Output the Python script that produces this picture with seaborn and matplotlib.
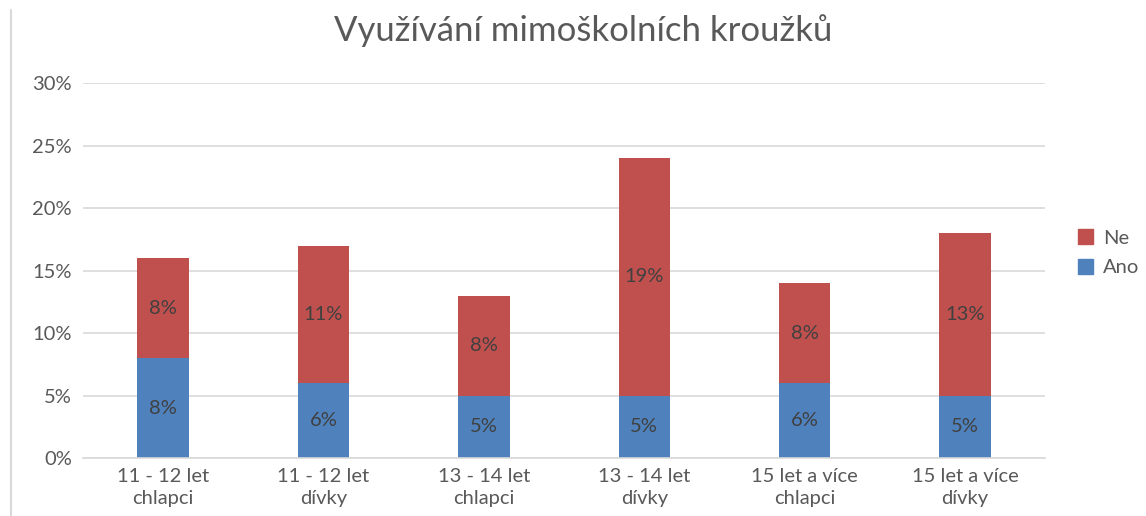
import matplotlib
matplotlib.use('Agg')
import matplotlib.pyplot as plt
import seaborn as sns
import pandas as pd
from matplotlib.lines import Line2D
from matplotlib.patches import Patch
from matplotlib.ticker import PercentFormatter

categories = ['11 - 12 let\nchlapci', '11 - 12 let\ndívky', '13 - 14 let\nchlapci',
              '13 - 14 let\ndívky', '15 let a více\nchlapci', '15 let a více\ndívky']
ano = [8, 6, 5, 5, 6, 5]
ne = [8, 11, 8, 19, 8, 13]

BLUE = '#4F81BD'
RED = '#C0504D'
TEXT = '#595959'
GRID = '#D9D9D9'
FS = 14.5

df = pd.DataFrame({'kat': categories, 'Ano': ano, 'Ne': ne})
df['celkem'] = df['Ano'] + df['Ne']

sns.set_style('white')
plt.rcParams['font.family'] = ['Lato', 'DejaVu Sans']

fig = plt.figure(figsize=(11.46, 5.16), dpi=100)
ax = fig.add_axes([0.0724, 0.1124, 0.8396, 0.7266])

sns.barplot(data=df, x='kat', y='celkem', color=RED, width=0.32, saturation=1,
            linewidth=0, ax=ax)
sns.barplot(data=df, x='kat', y='Ano', color=BLUE, width=0.32, saturation=1,
            linewidth=0, ax=ax)

for i, row in df.iterrows():
    ax.text(i, row['Ano'] / 2, f"{row['Ano']}%", ha='center', va='center',
            fontsize=FS, color='#404040')
    ax.text(i, row['Ano'] + row['Ne'] / 2, f"{row['Ne']}%", ha='center', va='center',
            fontsize=FS, color='#404040')

ax.set_ylim(0, 30)
ax.set_xlim(-0.5, 5.5)
ax.set_yticks(range(0, 31, 5))
ax.yaxis.set_major_formatter(PercentFormatter(decimals=0))
ax.set_xticks(range(len(categories)), labels=categories, linespacing=1.4)
ax.grid(axis='y', color=GRID, linewidth=1.2)
ax.set_axisbelow(True)
for s in ['top', 'right', 'left']:
    ax.spines[s].set_visible(False)
ax.spines['bottom'].set_color(GRID)
ax.spines['bottom'].set_linewidth(1.2)
ax.tick_params(axis='both', length=0, labelsize=FS, labelcolor=TEXT, pad=7)
ax.tick_params(axis='y', pad=8)
ax.set_xlabel('')
ax.set_ylabel('')

fig.text(0.509, 0.94, 'Využívání mimoškolních kroužků', ha='center', va='center',
         fontsize=25, color=TEXT)

handles = [Patch(color=RED, label='Ne'), Patch(color=BLUE, label='Ano')]
fig.legend(handles=handles, loc='center left', bbox_to_anchor=(0.925, 0.51),
           frameon=False, fontsize=FS, labelcolor=TEXT, handlelength=0.75,
           handleheight=0.75, handletextpad=0.5, labelspacing=0.6)

fig.add_artist(Line2D([0.0092, 0.0092], [0, 0.98], color=GRID, linewidth=1.5))

fig.savefig('out.png', dpi=100)
